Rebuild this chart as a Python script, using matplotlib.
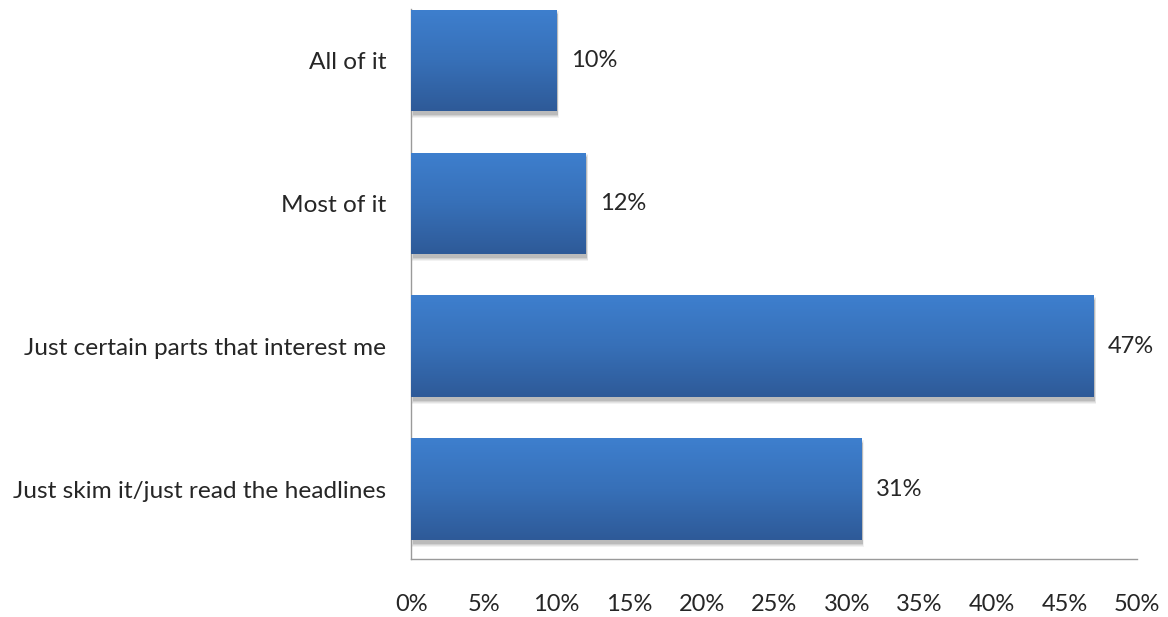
import numpy as np
import matplotlib
matplotlib.use("Agg")
import matplotlib.pyplot as plt
from matplotlib.patches import Rectangle
from matplotlib.colors import LinearSegmentedColormap
from matplotlib.ticker import FuncFormatter

categories = [
    "All of it",
    "Most of it",
    "Just certain parts that interest me",
    "Just skim it/just read the headlines",
]
values = [10, 12, 47, 31]
xticks = [0, 5, 10, 15, 20, 25, 30, 35, 40, 45, 50]

plt.rcParams["font.family"] = ["Lato", "DejaVu Sans"]
text_color = "#262626"
fs = 17

fig = plt.figure(figsize=(11.68, 6.17), dpi=100)
ax = fig.add_axes([0.352, 0.094, 0.6215, 0.8914])

bar_h = 0.71
ypos = np.arange(len(categories))
ax.set_ylim(len(categories) - 1 + 0.49, -0.36)
ax.set_xlim(0, 50)

grad = LinearSegmentedColormap.from_list("bar", ["#3e7fce", "#3770b8", "#2e5a98"])
gimg = np.linspace(0, 1, 256).reshape(-1, 1)

bars = ax.barh(ypos, values, height=bar_h, color="#3670b6", zorder=3)
for bar, v in zip(bars, values):
    x0, y0 = bar.get_x(), bar.get_y()
    w, h = bar.get_width(), bar.get_height()
    # soft drop shadow
    for i, a in enumerate([0.05, 0.06, 0.08, 0.10]):
        grow = (3 - i) * 0.06
        ax.add_patch(Rectangle((x0 + 0.12 - grow * 0.25, y0 + 0.03 - grow * 0.1),
                               w + grow * 0.5, h + grow * 0.2,
                               facecolor="#000000", alpha=a, linewidth=0, zorder=2))
    im = ax.imshow(gimg, cmap=grad, aspect="auto",
                   extent=(x0, x0 + w, y0 + h, y0), zorder=4,
                   interpolation="bilinear")
    im.set_clip_path(bar)
    ax.text(v + 1.0, y0 + h / 2, f"{v}%", va="center", ha="left",
            fontsize=fs, color=text_color, zorder=5)

ax.set_yticks(ypos)
ax.set_yticklabels(categories, fontsize=17.6, color=text_color)
ax.set_xticks(xticks)
ax.xaxis.set_major_formatter(FuncFormatter(lambda x, _: f"{int(x)}%"))
ax.tick_params(axis="x", length=0, pad=25, labelsize=fs, labelcolor=text_color)
ax.tick_params(axis="y", length=0, pad=18)

for side in ("top", "right"):
    ax.spines[side].set_visible(False)
for side in ("left", "bottom"):
    ax.spines[side].set_color("#9a9a9a")
    ax.spines[side].set_linewidth(1.0)

fig.savefig("out.png", dpi=100, facecolor="white")
